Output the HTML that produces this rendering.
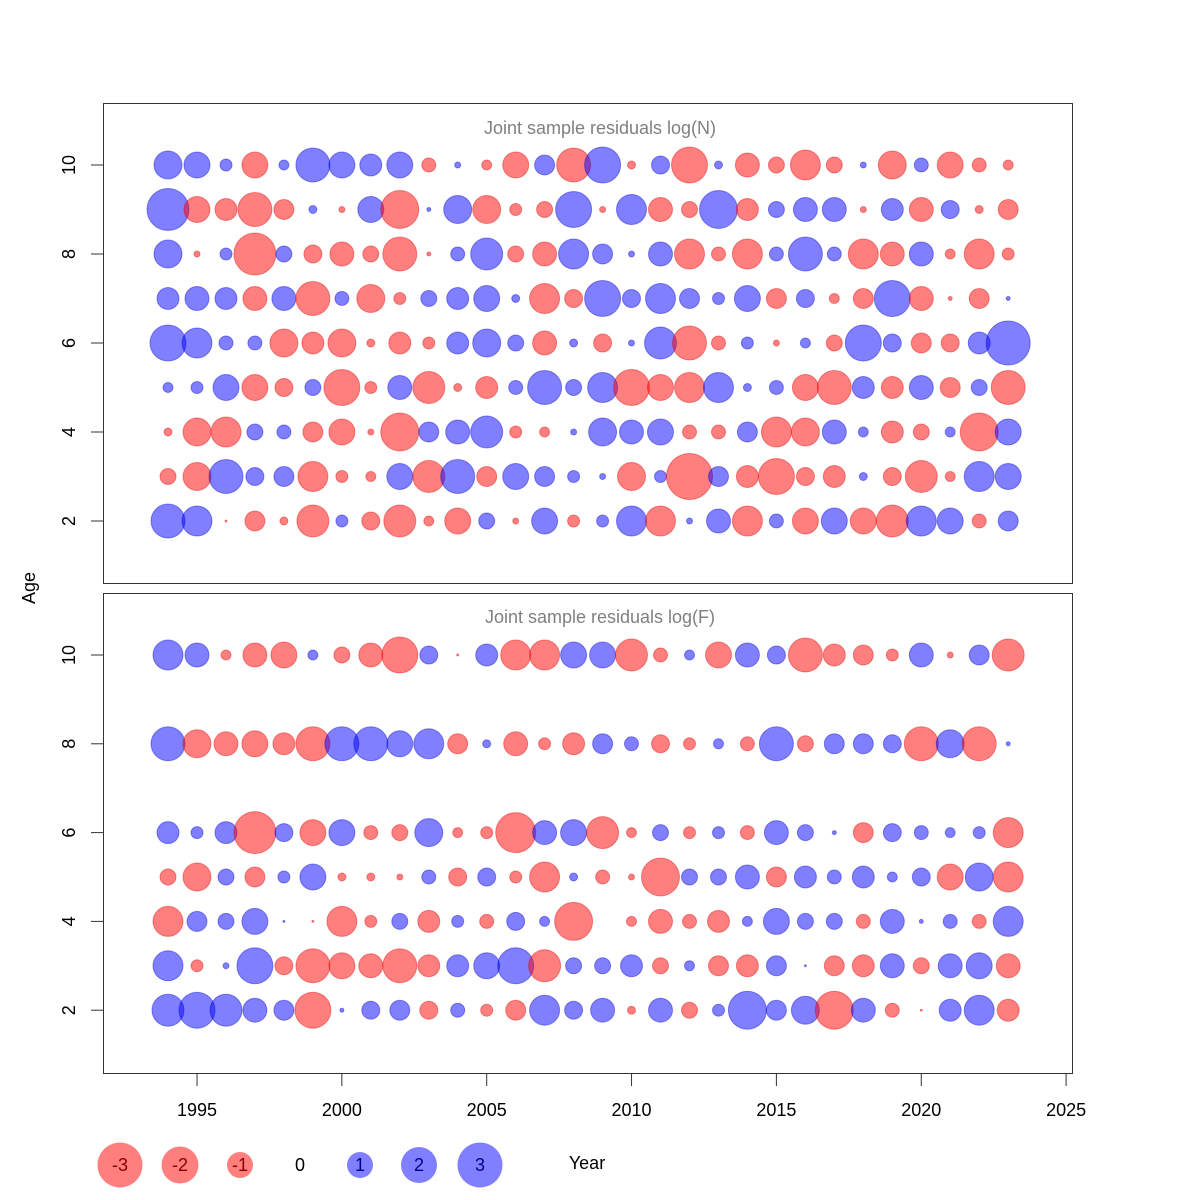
<!DOCTYPE html>
<html><head><meta charset="utf-8"><style>
html,body{margin:0;padding:0;background:#fff;}
svg{display:block;}
text{font-family:"Liberation Sans",sans-serif;}
</style></head><body>
<svg id="s" width="1200" height="1200" xmlns="http://www.w3.org/2000/svg">
<rect x="103.5" y="103.5" width="969" height="480" fill="none" stroke="#333" stroke-width="1"/>
<rect x="103.5" y="593.5" width="969" height="480" fill="none" stroke="#333" stroke-width="1"/>
<text x="600" y="134" text-anchor="middle" font-size="18" fill="#808080">Joint sample residuals log(N)</text>
<text x="600" y="623" text-anchor="middle" font-size="18" fill="#808080">Joint sample residuals log(F)</text>
<text transform="translate(35,588) rotate(-90)" text-anchor="middle" font-size="18">Age</text>
<text x="587" y="1169" text-anchor="middle" font-size="18">Year</text>
<g id="g"></g>
</svg>
<script>
(function(){
var g=document.getElementById('g'),h='';
function X(y){return 197+(y-1995)*28.97;}
function c(x,y,r){if(r==0)return '';var a=Math.abs(r);
return '<circle cx="'+x.toFixed(1)+'" cy="'+y+'" r="'+a+'" fill="'+(r>0?'rgba(0,0,255,0.5)':'rgba(255,0,0,0.5)')+'" stroke="'+(r>0?'rgba(0,0,200,0.4)':'rgba(220,0,0,0.4)')+'" stroke-width="1"/>';}
var T={10:[14,13,6,-13,5,17,13,11,13,-7,3,-5,-13,10,-17,18,-4,9,-18,4,-12,-8,-15,-8,3,-14,7,-13,-7,-5],
9:[21,-13,-11,-17,-10,4,-3,13,-19,2,14,-14,-6,-8,18,-3,15,-12,-8,19,-11,8,12,12,-3,11,-12,9,-4,-10],
8:[14,-3,6,-21,8,-9,-12,-8,-17,-2,7,16,-8,-12,15,10,3,12,-15,-7,-15,7,17,7,-15,-12,12,-5,-15,-6],
7:[11,12,11,-12,12,-17,7,-14,-6,8,11,13,4,-15,-9,18,9,15,10,6,13,-10,9,-5,-10,18,-12,-2,-10,2],
6:[18,15,7,7,-14,-11,-14,-4,-11,-6,11,14,8,-12,4,-9,3,16,-17,-7,6,-3,5,-8,18,9,-10,-9,11,22],
5:[5,6,13,-13,-9,8,-18,-6,12,-16,-4,-11,7,17,8,15,-18,-13,-15,15,4,7,-13,-17,11,-11,12,-10,8,-17],
4:[-4,-14,-15,8,7,-10,-13,-3,-19,10,12,16,-6,-5,3,14,12,13,-7,-7,10,-15,-14,12,5,-11,-8,5,-19,13],
3:[-8,-14,17,9,10,-15,-6,-5,13,-16,17,-10,13,10,6,3,-14,6,-23,10,-11,-18,-9,-11,4,-9,-16,-5,15,13],
2:[17,15,-1,-10,-4,-16,6,-9,-16,-5,-13,8,-3,13,-6,6,15,-15,3,12,-15,7,-13,13,-13,-16,15,13,-7,10]};
var B={10:[15,12,-5,-12,-13,5,-8,-12,-18,9,-1,11,-15,-15,13,13,-16,-7,5,-13,12,9,-17,-11,-10,-6,12,-3,10,-16],
8:[17,-14,-12,-13,-11,-17,17,17,13,15,-10,4,-12,-6,-11,10,7,-9,-6,5,-7,17,-8,10,10,9,-17,14,-17,2],
6:[11,6,11,-21,9,-13,13,-7,-8,14,-5,-6,-20,12,13,-16,-5,8,-6,6,-7,12,8,2,-10,9,7,5,6,-15],
5:[-8,-14,8,-10,6,13,-4,-4,-3,7,-9,9,-6,-15,4,-7,-3,-19,8,8,12,-10,11,7,11,5,9,-13,14,-15],
4:[-15,10,8,13,1,-1,-15,-6,8,-11,6,-7,9,5,-19,0,-5,-12,-7,-11,5,13,8,8,-7,12,2,7,-7,15],
3:[15,-6,3,18,-9,-17,-13,-12,-17,-11,11,13,18,-16,8,8,11,-8,5,-10,-11,10,1,-10,-11,12,-8,12,13,-12],
2:[16,18,16,12,10,-18,2,9,10,-9,7,-6,-10,15,9,12,-4,12,-8,6,19,10,14,-19,12,-7,-1,11,15,-11]};
function Yt(a){return 165+(10-a)*44.5;}
function Yb(a){return 655+(10-a)*44.4;}
Object.keys(T).forEach(function(a){T[a].forEach(function(r,i){h+=c(X(1994+i),Yt(+a),r);});});
Object.keys(B).forEach(function(a){B[a].forEach(function(r,i){h+=c(X(1994+i),Yb(+a),r);});});
[2,4,6,8,10].forEach(function(a){
 [Yt(a),Yb(a)].forEach(function(y){
  h+='<line x1="91" x2="103.5" y1="'+y+'" y2="'+y+'" stroke="#333"/>';
  h+='<text transform="translate(75,'+y+') rotate(-90)" text-anchor="middle" font-size="18">'+a+'</text>';
 });
});
h+='<line x1="197" x2="1066" y1="1073.5" y2="1073.5" stroke="#333"/>';
for(var y=1995;y<=2025;y+=5){var x=X(y);
 h+='<line x1="'+x+'" x2="'+x+'" y1="1073.5" y2="1086" stroke="#333"/>';
 h+='<text x="'+x+'" y="1116" text-anchor="middle" font-size="18">'+y+'</text>';}
var L=[[-3,120,22.5],[-2,180,18.5],[-1,240,13],[0,300,0],[1,360,13],[2,419,18],[3,480,22.5]];
L.forEach(function(l){
 if(l[2])h+='<circle cx="'+l[1]+'" cy="1165" r="'+l[2]+'" fill="'+(l[0]>0?'rgba(0,0,255,0.5)':'rgba(255,0,0,0.5)')+'"/>';
 h+='<text x="'+l[1]+'" y="1171" text-anchor="middle" font-size="18" fill="'+(l[0]>0?'#00008b':l[0]<0?'#8b0000':'#000')+'">'+l[0]+'</text>';
});
g.innerHTML=h;
})();
</script>
</body></html>
